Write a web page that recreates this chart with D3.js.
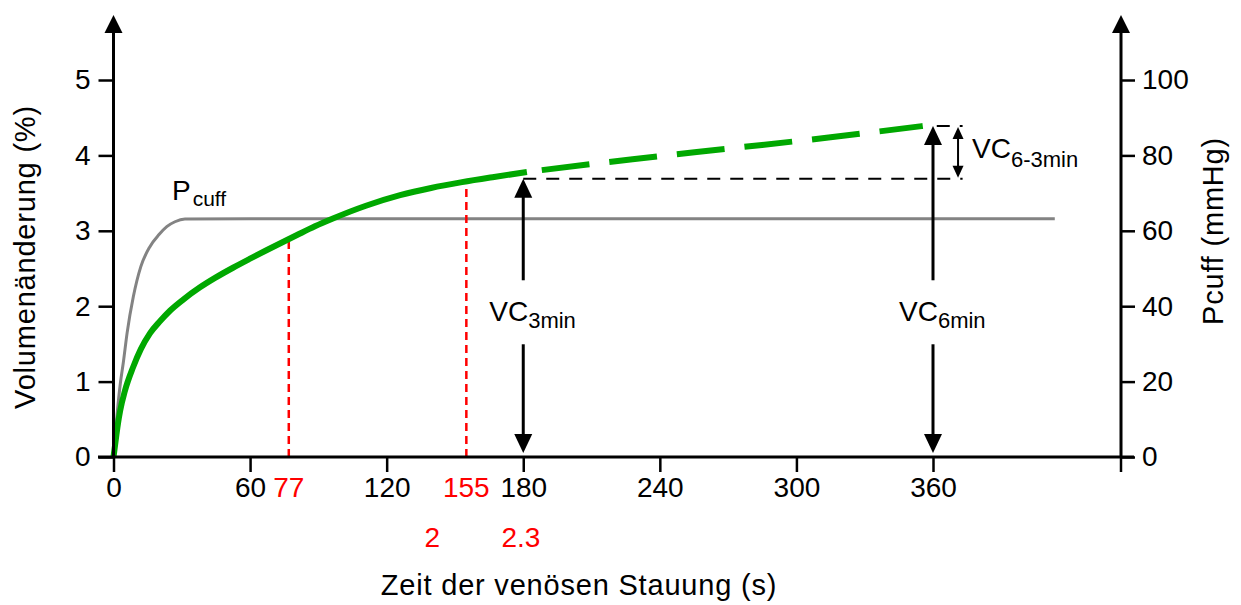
<!DOCTYPE html>
<html><head><meta charset="utf-8">
<script src="https://cdn.jsdelivr.net/npm/d3@7"></script>
<style>
body{margin:0;background:#fff;}
svg text{font-family:"Liberation Sans",Arial,Helvetica,sans-serif;}
</style></head><body>
<svg id="chart" width="1241" height="605"></svg>
<script>
// ---- data ----
const timeTicks = [0, 60, 120, 180, 240, 300, 360];
const volTicks = [0, 1, 2, 3, 4, 5];
const pressTicks = [0, 20, 40, 60, 80, 100];
// volume change (%) - measured part (solid)
const volSolidT = [0, 0.66, 1.3, 2, 2.9, 5, 8.6, 12, 16, 20.4, 24.8, 30.5, 38, 44.6, 52.5, 60, 67.4, 80.6, 88.5, 96.4, 110.9, 125.9, 139.5, 153.1, 167.2, 181.6];
const volSolidV = [0, 0.15, 0.3, 0.45, 0.61, 0.875, 1.19, 1.43, 1.64, 1.80, 1.94, 2.085, 2.25, 2.375, 2.51, 2.63, 2.745, 2.944, 3.06, 3.163, 3.332, 3.472, 3.568, 3.645, 3.714, 3.78];
// volume change (%) - extrapolated part (dashed)
const volDashT = [181.6, 228, 270, 315, 355.5];
const volDashV = [3.78, 3.95, 4.09, 4.24, 4.39];
// cuff pressure (mmHg)
const cuffT = [0, 1, 2, 3, 4.3, 6, 8.7, 12, 16, 20, 23.4, 27, 31.4, 60, 120, 240, 413.5];
const cuffP = [0, 7.5, 14, 19.5, 25, 33, 42.5, 50.5, 55.8, 59, 61.1, 62.4, 63.1, 63.2, 63.2, 63.2, 63.2];
// red markers
const markT = [77, 155];
const markV = [2.89, 3.65];
const markLabels = ["77", "155"];
const subLabels = ["2", "2.3"];
const subLabelT = [140, 179];
// VC annotations
const vcT = [180, 360];
const vcTopV = [3.69, 4.39];
const vcSub = ["3min", "6min"];
const vcDiffT = 371;
const refLineT = [[180, 373], [355.5, 373]];

// ---- scales ----
const svg = d3.select("#chart");
const x = d3.scaleLinear().domain([0, 360]).range([113.5, 933]);
const yL = d3.scaleLinear().domain([0, 5]).range([457, 80]);
const yR = d3.scaleLinear().domain([0, 100]).range([457, 80]);
const axisRightX = 1121, axisTopY = 15;
const FONT = 28;

// ---- curves ----
const lineV = d3.line().x(d => x(d[0])).y(d => yL(d[1])).curve(d3.curveMonotoneX);
const lineP = d3.line().x(d => x(d[0])).y(d => yR(d[1])).curve(d3.curveMonotoneX);

svg.append("path").datum(cuffT.map((t, i) => [t, cuffP[i]]))
  .attr("d", lineP).attr("fill", "none").attr("stroke", "#838383").attr("stroke-width", 3);

// red dashed markers
markT.forEach((t, i) => {
  svg.append("line").attr("x1", x(t)).attr("x2", x(t)).attr("y1", yL(0)).attr("y2", yL(markV[i]))
    .attr("stroke", "#ff0000").attr("stroke-width", 2.5).attr("stroke-dasharray", "8,5");
});

svg.append("path").datum(volSolidT.map((t, i) => [t, volSolidV[i]]))
  .attr("d", lineV).attr("fill", "none").attr("stroke", "#00a800").attr("stroke-width", 6);
svg.append("path").datum(volDashT.map((t, i) => [t, volDashV[i]]))
  .attr("d", lineV).attr("fill", "none").attr("stroke", "#00a800").attr("stroke-width", 6)
  .attr("stroke-dasharray", "48,20").attr("stroke-dashoffset", 53);

// black dashed reference lines
svg.append("line").attr("x1", x(refLineT[0][0])).attr("x2", x(refLineT[0][1]))
  .attr("y1", yL(vcTopV[0])).attr("y2", yL(vcTopV[0]))
  .attr("stroke", "#000").attr("stroke-width", 2).attr("stroke-dasharray", "13,10");
svg.append("line").attr("x1", x(refLineT[1][0]) + 14).attr("x2", x(refLineT[1][1]))
  .attr("y1", yL(vcTopV[1])).attr("y2", yL(vcTopV[1]))
  .attr("stroke", "#000").attr("stroke-width", 2).attr("stroke-dasharray", "13,10");

// arrow helper
function arrowHead(px, py, dir, hw, hl) {
  svg.append("path")
    .attr("d", `M${px},${py} L${px - hw},${py - dir * hl} L${px + hw},${py - dir * hl} Z`)
    .attr("fill", "#000");
}

// VC arrows with labels
const labelV = 1.8;
vcT.forEach((t, i) => {
  const px = x(t);
  const topY = yL(vcTopV[i]), botY = yL(0) - 4;
  const ly = yL(labelV);
  svg.append("line").attr("x1", px).attr("x2", px).attr("y1", topY + 15).attr("y2", ly - 41)
    .attr("stroke", "#000").attr("stroke-width", 3);
  svg.append("line").attr("x1", px).attr("x2", px).attr("y1", ly + 23).attr("y2", botY - 15)
    .attr("stroke", "#000").attr("stroke-width", 3);
  arrowHead(px, topY, -1, 9, 19);
  arrowHead(px, botY, 1, 9, 19);
  const tx = svg.append("text").attr("x", px - 34).attr("y", ly).attr("font-size", FONT).attr("fill", "#000");
  tx.append("tspan").text("VC");
  tx.append("tspan").attr("font-size", 22).attr("dy", 7).text(vcSub[i]);
});

// small double arrow VC6-3min
{
  const px = x(vcDiffT);
  const y1 = yL(vcTopV[1]), y2 = yL(vcTopV[0]);
  svg.append("line").attr("x1", px).attr("x2", px).attr("y1", y1 + 8).attr("y2", y2 - 8)
    .attr("stroke", "#000").attr("stroke-width", 2);
  arrowHead(px, y1 + 1, -1, 5.5, 12);
  arrowHead(px, y2 - 1, 1, 5.5, 12);
  const tx = svg.append("text").attr("x", px + 14).attr("y", (y1 + y2) / 2 + 6).attr("font-size", FONT);
  tx.append("tspan").text("VC");
  tx.append("tspan").attr("font-size", 22).attr("dy", 9).text("6-3min");
}

// P_cuff label
{
  const tx = svg.append("text").attr("x", 172).attr("y", 200).attr("font-size", FONT);
  tx.append("tspan").text("P");
  tx.append("tspan").attr("font-size", 21).attr("dy", 6).attr("dx", 2).text("cuff");
}

// ---- axes ----
function styleAxis(g) {
  g.attr("font-size", FONT).attr("font-family", '"Liberation Sans",Arial,sans-serif');
  g.select(".domain").remove();
  g.selectAll(".tick line").attr("stroke", "#000").attr("stroke-width", 2.5);
  g.selectAll(".tick text").attr("fill", "#000");
}
svg.append("g").attr("transform", `translate(${x(0)},0)`)
  .call(d3.axisLeft(yL).tickValues(volTicks).tickSize(15).tickPadding(8).tickFormat(d3.format("d")))
  .call(styleAxis);
svg.append("g").attr("transform", `translate(${axisRightX},0)`)
  .call(d3.axisRight(yR).tickValues(pressTicks).tickSize(14).tickPadding(7).tickFormat(d3.format("d")))
  .call(styleAxis);
const gx = svg.append("g").attr("transform", `translate(0,${yL(0)})`)
  .call(d3.axisBottom(x).tickValues(timeTicks).tickSize(15).tickPadding(5).tickFormat(d3.format("d")))
  .call(styleAxis);
gx.append("line").attr("x1", axisRightX).attr("x2", axisRightX).attr("y1", 0).attr("y2", 15)
  .attr("stroke", "#000").attr("stroke-width", 2.5);

// axis lines and arrows
svg.append("line").attr("x1", 98).attr("x2", 1134).attr("y1", yL(0)).attr("y2", yL(0))
  .attr("stroke", "#000").attr("stroke-width", 3);
[x(0), axisRightX].forEach(px => {
  svg.append("line").attr("x1", px).attr("x2", px).attr("y1", yL(0)).attr("y2", axisTopY + 15)
    .attr("stroke", "#000").attr("stroke-width", 3);
  arrowHead(px, axisTopY, -1, 9, 18);
});

// red labels
markT.forEach((t, i) => {
  svg.append("text").attr("x", x(t)).attr("y", 497).attr("text-anchor", "middle")
    .attr("font-size", FONT).attr("fill", "#ff0000").text(markLabels[i]);
});
subLabels.forEach((s, i) => {
  svg.append("text").attr("x", x(subLabelT[i])).attr("y", 547).attr("text-anchor", "middle")
    .attr("font-size", FONT).attr("fill", "#ff0000").text(s);
});

// titles
svg.append("text").attr("x", 579).attr("y", 595).attr("text-anchor", "middle")
  .attr("font-size", 29).attr("letter-spacing", 0.8).text("Zeit der venösen Stauung (s)");
svg.append("text").attr("transform", "translate(35,257) rotate(-90)").attr("text-anchor", "middle")
  .attr("font-size", 29).attr("letter-spacing", 0.8).text("Volumenänderung (%)");
svg.append("text").attr("transform", "translate(1223,231) rotate(-90)").attr("text-anchor", "middle")
  .attr("font-size", 29).attr("letter-spacing", 0.8).text("Pcuff (mmHg)");
</script>
</body></html>
